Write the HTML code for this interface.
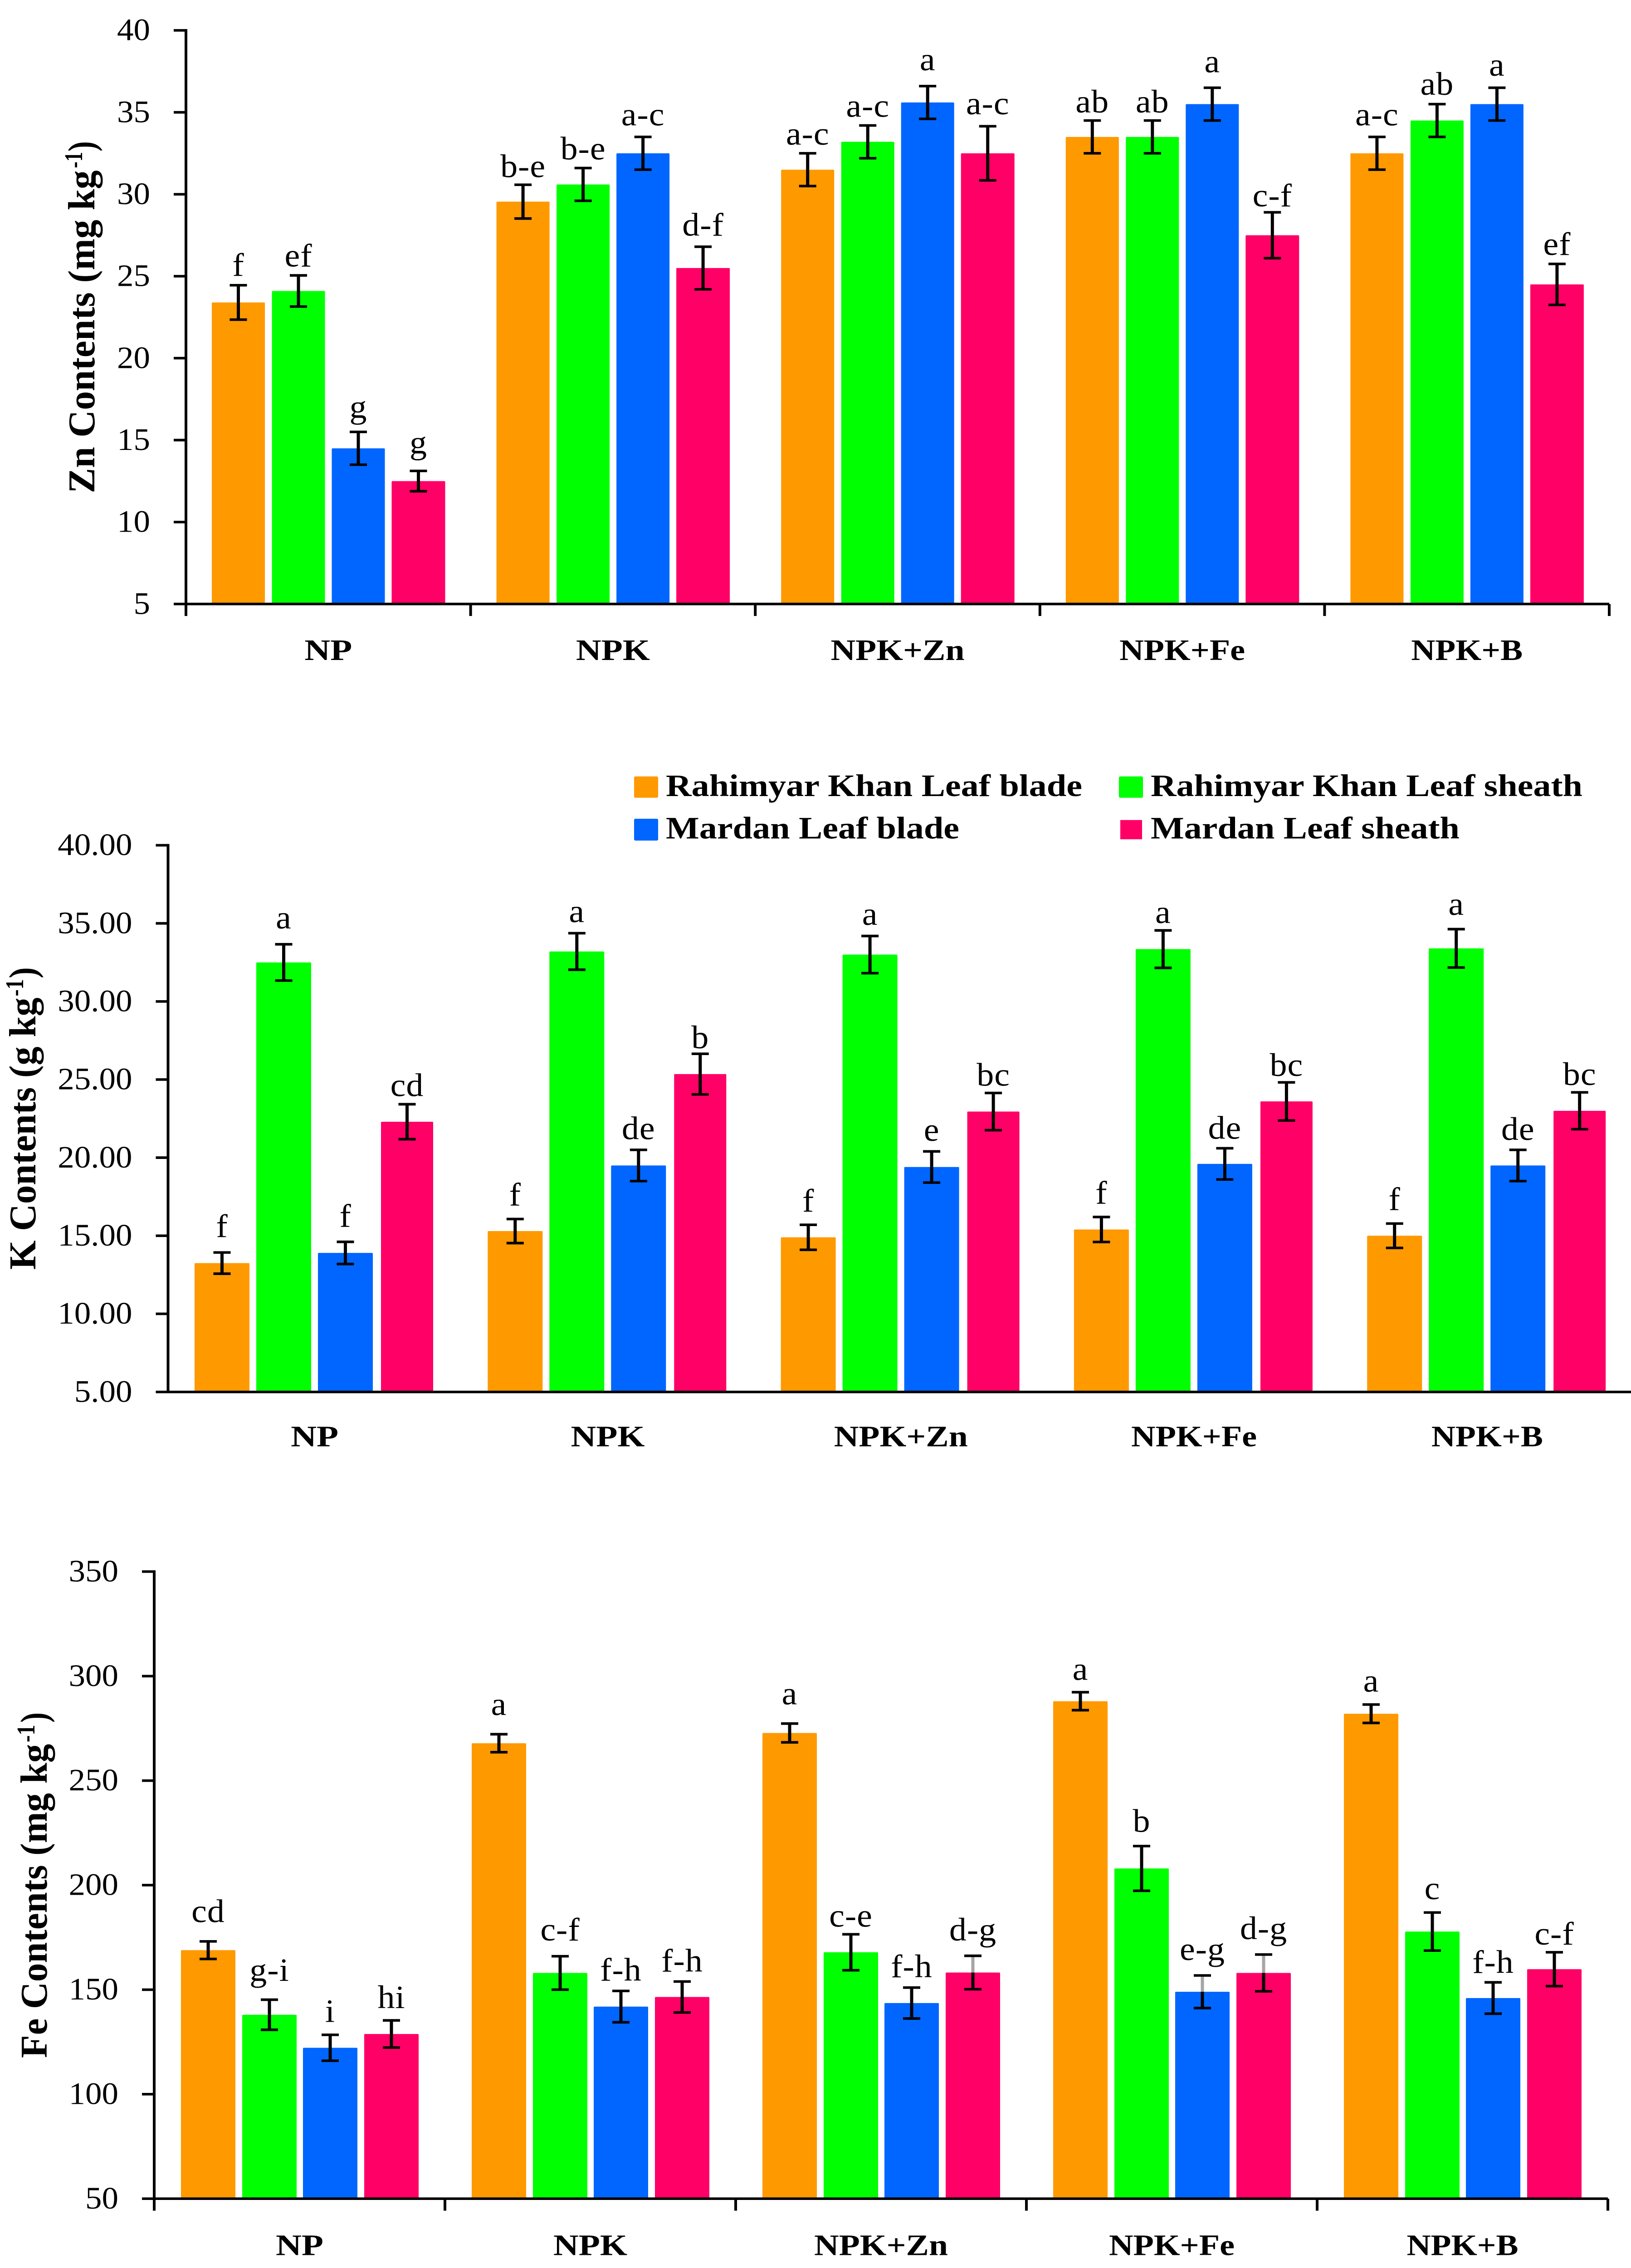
<!DOCTYPE html>
<html lang="en">
<head>
<meta charset="utf-8">
<title>Zn, K and Fe contents by fertilizer treatment</title>
<style>
html,body{margin:0;padding:0;background:#fff;width:100%;height:100%;overflow:hidden;}
svg#figure{display:block;position:fixed;left:0;top:0;width:100vw;height:100vh;overflow:hidden;}
script{display:none;}
text{font-family:"Liberation Serif",serif;fill:#000;}
.b{font-weight:bold;}
</style>
</head>
<body>
<svg id="figure" xmlns="http://www.w3.org/2000/svg" viewBox="0 0 3596 5302" preserveAspectRatio="none">
  <rect x="0" y="0" width="3596" height="5302" fill="#fff"/>

  <g id="zn-chart"></g>
  <g id="k-chart"></g>
  <g id="fe-chart"></g>

  <g transform="translate(208,1153) rotate(-90)">
    <text class="b" x="0" y="0" font-size="84" textLength="755" lengthAdjust="spacingAndGlyphs">Zn Contents (mg kg</text>
    <text class="b" x="760" y="-27" font-size="56" textLength="38" lengthAdjust="spacingAndGlyphs">-1</text>
    <text class="b" x="799" y="0" font-size="84" textLength="24" lengthAdjust="spacingAndGlyphs">)</text>
  </g>
  <g transform="translate(78,2968) rotate(-90)">
    <text class="b" x="0" y="0" font-size="84" textLength="636" lengthAdjust="spacingAndGlyphs">K Contents (g kg</text>
    <text class="b" x="639" y="-27" font-size="56" textLength="40" lengthAdjust="spacingAndGlyphs">-1</text>
    <text class="b" x="681" y="0" font-size="84" textLength="26" lengthAdjust="spacingAndGlyphs">)</text>
  </g>
  <g transform="translate(103,4811) rotate(-90)">
    <text class="b" x="0" y="0" font-size="84" textLength="734" lengthAdjust="spacingAndGlyphs">Fe Contents (mg kg</text>
    <text class="b" x="738" y="-27" font-size="56" textLength="41" lengthAdjust="spacingAndGlyphs">-1</text>
    <text class="b" x="784" y="0" font-size="84" textLength="24" lengthAdjust="spacingAndGlyphs">)</text>
  </g>

  <g>
    <g>
      <rect x="1398" y="1815" width="53" height="50" rx="3" fill="#FF9900"/>
      <text class="b" x="1468" y="1861" font-size="73" textLength="918" lengthAdjust="spacingAndGlyphs">Rahimyar Khan Leaf blade</text>
    </g>
    <g>
      <rect x="2467" y="1815" width="53" height="50" rx="3" fill="#00FF00"/>
      <text class="b" x="2537" y="1861" font-size="73" textLength="952" lengthAdjust="spacingAndGlyphs">Rahimyar Khan Leaf sheath</text>
    </g>
    <g>
      <rect x="1398" y="1914" width="53" height="51" rx="3" fill="#0066FF"/>
      <text class="b" x="1468" y="1960" font-size="73" textLength="647" lengthAdjust="spacingAndGlyphs">Mardan Leaf blade</text>
    </g>
    <g>
      <rect x="2470" y="1917" width="48" height="45" fill="#FF0066"/>
      <text class="b" x="2537" y="1960" font-size="73" textLength="681" lengthAdjust="spacingAndGlyphs">Mardan Leaf sheath</text>
    </g>
  </g>
</svg>

<script>
// ---- Data (rows = treatments, columns = RK blade, RK sheath, Mardan blade, Mardan sheath) ----
const categories = ['NP', 'NPK', 'NPK+Zn', 'NPK+Fe', 'NPK+B'];
const seriesColors = ['#FF9900', '#00FF00', '#0066FF', '#FF0066'];

const znTickValues = [5, 10, 15, 20, 25, 30, 35, 40];
const znTickLabels = ['5', '10', '15', '20', '25', '30', '35', '40'];
const znValues = [
  [23.4, 24.1, 14.5, 12.5],
  [29.55, 30.6, 32.5, 25.5],
  [31.5, 33.2, 35.6, 32.5],
  [33.5, 33.5, 35.5, 27.5],
  [32.5, 34.5, 35.5, 24.5]
];
const znErrors = [
  [1.05, 0.95, 1.0, 0.62],
  [1.03, 1.0, 1.0, 1.3],
  [1.0, 1.0, 1.0, 1.65],
  [1.0, 1.0, 1.0, 1.4],
  [1.0, 1.0, 1.0, 1.25]
];
const znLetters = [
  ['f', 'ef', 'g', 'g'],
  ['b-e', 'b-e', 'a-c', 'd-f'],
  ['a-c', 'a-c', 'a', 'a-c'],
  ['ab', 'ab', 'a', 'c-f'],
  ['a-c', 'ab', 'a', 'ef']
];

const kTickValues = [5, 10, 15, 20, 25, 30, 35, 40];
const kTickLabels = ['5.00', '10.00', '15.00', '20.00', '25.00', '30.00', '35.00', '40.00'];
const kValues = [
  [13.25, 32.5, 13.9, 22.3],
  [15.3, 33.2, 19.5, 25.35],
  [14.9, 33.0, 19.4, 22.95],
  [15.4, 33.35, 19.6, 23.6],
  [15.0, 33.4, 19.5, 23.0]
];
const kErrors = [
  [0.68, 1.16, 0.71, 1.12],
  [0.77, 1.17, 1.0, 1.3],
  [0.8, 1.19, 1.0, 1.19],
  [0.8, 1.2, 1.0, 1.22],
  [0.78, 1.23, 1.0, 1.18]
];
const kLetters = [
  ['f', 'a', 'f', 'cd'],
  ['f', 'a', 'de', 'b'],
  ['f', 'a', 'e', 'bc'],
  ['f', 'a', 'de', 'bc'],
  ['f', 'a', 'de', 'bc']
];

const feTickValues = [50, 100, 150, 200, 250, 300, 350];
const feTickLabels = ['50', '100', '150', '200', '250', '300', '350'];
const feValues = [
  [168.9, 138, 122.2, 128.8],
  [267.9, 158, 141.9, 146.5],
  [272.8, 167.9, 143.6, 158.2],
  [288, 208, 149, 158],
  [282, 177.8, 146, 159.8]
];
const feErrors = [
  [4.2, 7.2, 6.2, 6.5],
  [4.3, 8, 7.5, 7.4],
  [4.5, 8.6, 7.4, 8],
  [4.3, 10.7, 7.8, 8.8],
  [4.4, 9.1, 7.5, 8.1]
];
const feLetters = [
  ['cd', 'g-i', 'i', 'hi'],
  ['a', 'c-f', 'f-h', 'f-h'],
  ['a', 'c-e', 'f-h', 'd-g'],
  ['a', 'b', 'e-g', 'd-g'],
  ['a', 'c', 'f-h', 'c-f']
];
// Upper error whiskers that are drawn grey in the figure: treatment, series
const feGreyWhiskers = [[2, 3], [3, 2], [3, 3]];

// ---- Layout (pixels; independent of the data) ----
const NS = 'http://www.w3.org/2000/svg';
const categoryLabelWidths = { 'NP': 105, 'NPK': 163, 'NPK+Zn': 295, 'NPK+Fe': 277, 'NPK+B': 246 };

function svgEl(tag, attrs, text) {
  const el = document.createElementNS(NS, tag);
  for (const k in attrs) el.setAttribute(k, attrs[k]);
  if (text !== undefined) el.textContent = text;
  return el;
}

function makeYScale(domainMin, domainMax, pixelBottom, pixelTop) {
  return function (v) {
    return pixelBottom - (v - domainMin) * (pixelBottom - pixelTop) / (domainMax - domainMin);
  };
}

function drawChart(cfg) {
  const root = document.getElementById(cfg.id);
  const yOf = makeYScale(cfg.ticks[0], cfg.ticks[cfg.ticks.length - 1], cfg.bottom, cfg.top);
  const xOfGroup = function (i) { return cfg.barStart + cfg.groupStep * i; };

  // bars
  cfg.values.forEach(function (row, c) {
    row.forEach(function (v, s) {
      const top = yOf(v);
      const bar = svgEl('rect', {
        x: xOfGroup(c) + cfg.barOffsets[s],
        y: top,
        width: cfg.barWidths[s],
        height: cfg.bottom - top,
        rx: 2,
        fill: seriesColors[s]
      });
      
      
      root.appendChild(bar);
    });
  });

  // y axis
  const yAxis = svgEl('line', { x1: cfg.axisX, x2: cfg.axisX, y1: cfg.top - 3, y2: cfg.bottom + 3, stroke: '#000', 'stroke-width': 6 });
  
  
  root.appendChild(yAxis);

  cfg.ticks.forEach(function (t, i) {
    const y = yOf(t);
    const tick = svgEl('line', { x1: cfg.axisX - 27, x2: cfg.axisX, y1: y, y2: y, stroke: '#000', 'stroke-width': 6 });
    
    
    root.appendChild(tick);
    const label = svgEl('text', { x: cfg.axisX - 79, y: y + 23, 'font-size': 73, 'text-anchor': 'end' }, cfg.tickLabels[i]);
    
    
    root.appendChild(label);
  });

  // x axis
  const xAxis = svgEl('line', { x1: cfg.axisX, x2: cfg.axisEnd, y1: cfg.bottom, y2: cfg.bottom, stroke: '#000', 'stroke-width': 6 });
  
  
  root.appendChild(xAxis);

  categories.forEach(function (name, c) {
    const center = cfg.axisX + cfg.groupStep * (c + 0.5);
    const w = categoryLabelWidths[name];
    const label = svgEl('text', {
      class: 'b', x: center - w / 2, y: cfg.catBaseline, 'font-size': 70,
      textLength: w, lengthAdjust: 'spacingAndGlyphs'
    }, name);
    
    
    root.appendChild(label);
  });

  if (cfg.xTicks) {
    for (let c = 0; c <= categories.length; c++) {
      const x = cfg.axisX + cfg.groupStep * c;
      const tick = svgEl('line', { x1: x, x2: x, y1: cfg.bottom, y2: cfg.bottom + 28, stroke: '#000', 'stroke-width': 6 });
      
      
      root.appendChild(tick);
    }
  }

  // error bars and significance letters
  cfg.values.forEach(function (row, c) {
    row.forEach(function (v, s) {
      const cx = xOfGroup(c) + cfg.barOffsets[s] + cfg.barWidths[s] / 2;
      const yTop = yOf(v + cfg.errors[c][s]);
      const yBot = yOf(v - cfg.errors[c][s]);
      const yMid = yOf(v);
      const isGrey = cfg.grey.some(function (g) { return g[0] === c && g[1] === s; });

      const upper = svgEl('line', { x1: cx, x2: cx, y1: yTop, y2: yMid, stroke: isGrey ? '#A6A6A6' : '#000', 'stroke-width': 7 });
      
      
      root.appendChild(upper);

      const lower = svgEl('line', { x1: cx, x2: cx, y1: yMid, y2: yBot, stroke: '#000', 'stroke-width': 7 });
      
      
      root.appendChild(lower);

      const capTop = svgEl('line', { x1: cx - 19, x2: cx + 19, y1: yTop, y2: yTop, stroke: '#000', 'stroke-width': 6 });
      
      
      root.appendChild(capTop);

      const capBot = svgEl('line', { x1: cx - 19, x2: cx + 19, y1: yBot, y2: yBot, stroke: '#000', 'stroke-width': 6 });
      
      
      root.appendChild(capBot);

      const letter = svgEl('text', {
        x: cx, y: yTop - cfg.labelGaps[c][s], 'font-size': 76, 'text-anchor': 'middle', 'letter-spacing': 1
      }, cfg.letters[c][s]);
      
      
      root.appendChild(letter);
    });
  });
}

drawChart({
  id: 'zn-chart', ticks: znTickValues, tickLabels: znTickLabels, values: znValues, errors: znErrors, letters: znLetters, grey: [],
  top: 71, bottom: 1412, axisX: 410, axisEnd: 3548, groupStep: 627.6, barStart: 467,
  barOffsets: [0, 132.5, 264.5, 396.5], barWidths: [117, 117, 117, 118],
  catBaseline: 1543, xTicks: true,
  labelGaps: [[22, 21, 33, 41], [18, 20, 27, 26], [20, 20, 37, 28], [19, 19, 36, 14], [27, 22, 28, 21]]
});

drawChart({
  id: 'k-chart', ticks: kTickValues, tickLabels: kTickLabels, values: kValues, errors: kErrors, letters: kLetters, grey: [],
  top: 1976, bottom: 3254, axisX: 370.5, axisEnd: 3596, groupStep: 646.3, barStart: 429,
  barOffsets: [0, 136, 272, 411], barWidths: [121, 121, 121, 115],
  catBaseline: 3381, xTicks: false,
  labelGaps: [[36, 37, 35, 19], [32, 26, 25, 13], [31, 26, 25, 17], [31, 17, 22, 15], [32, 33, 23, 17]]
});

drawChart({
  id: 'fe-chart', ticks: feTickValues, tickLabels: feTickLabels, values: feValues, errors: feErrors, letters: feLetters, grey: feGreyWhiskers,
  top: 3674, bottom: 5140, axisX: 340, axisEnd: 3545, groupStep: 641, barStart: 399,
  barOffsets: [0, 135, 269, 404], barWidths: [120, 120, 120, 120],
  catBaseline: 5272, xTicks: true,
  labelGaps: [[45, 44, 30, 29], [45, 37, 24, 23], [45, 18, 24, 36], [29, 33, 36, 36], [30, 31, 22, 18]]
});
</script>
</body>
</html>
